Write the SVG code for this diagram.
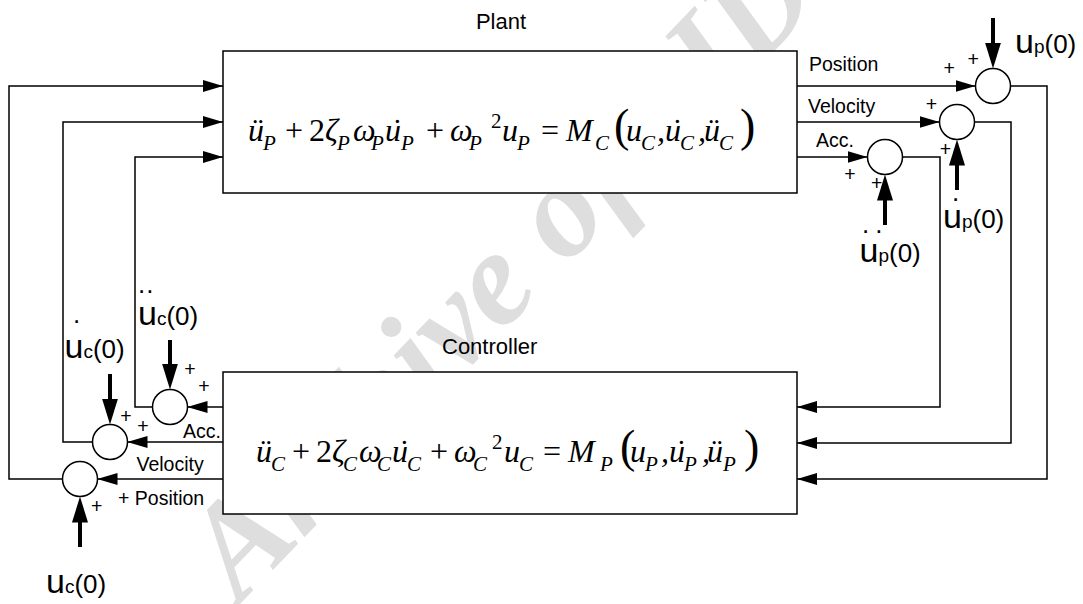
<svg xmlns="http://www.w3.org/2000/svg" width="1083" height="604" viewBox="0 0 1083 604">
<style>
.box{fill:#fff;stroke:#000;stroke-width:1.5}
.sum{fill:#fff;stroke:#000;stroke-width:1.5}
.ln{fill:none;stroke:#000;stroke-width:1.5}
.bold{fill:none;stroke:#000;stroke-width:4}
.lbl{font-family:"Liberation Sans",Arial,sans-serif;font-size:19.5px;fill:#000}
.pl{font-family:"Liberation Sans",Arial,sans-serif;font-size:19.5px;fill:#000;text-anchor:middle}
.ttl{font-family:"Liberation Sans",Arial,sans-serif;font-size:22px;fill:#000}
.ul{font-family:"Liberation Sans",Arial,sans-serif;fill:#000}
.uu{font-size:34px}
.us{font-size:19px}
.u0{font-size:26px}
.dot{font-family:"Liberation Sans",Arial,sans-serif;font-size:26px;fill:#000}
.eq{font-family:"Liberation Serif","Times New Roman",serif;font-size:32px;font-style:italic;fill:#000}
.sb{font-size:21px}
.up{font-style:normal}
.par{font-size:46px;font-style:normal}
.wm{font-family:"Liberation Serif","Times New Roman",serif;font-weight:bold;font-style:italic;font-size:135px;fill:#dedede}
</style>
<defs>
<marker id="ah" markerUnits="userSpaceOnUse" markerWidth="20" markerHeight="12" refX="20" refY="6" orient="auto"><path d="M0,0 L20,6 L0,12 z" fill="#000"/></marker>
<marker id="bh" markerUnits="userSpaceOnUse" markerWidth="26" markerHeight="16" refX="16" refY="8" orient="auto"><path d="M0,0 L26,8 L0,16 z" fill="#000"/></marker>
</defs>
<rect width="1083" height="604" fill="#fff"/>
<text class="wm" transform="translate(240,604) rotate(-46)">Archive of SID</text>

<g id="connectors">
<path class="ln" d="M797,86 H975.5" marker-end="url(#ah)"/>
<path class="ln" d="M797,122 H939.5" marker-end="url(#ah)"/>
<path class="ln" d="M797,157 H867.5" marker-end="url(#ah)"/>
<path class="ln" d="M1010.5,86 H1047 V479 H797" marker-end="url(#ah)"/>
<path class="ln" d="M974.5,122 H1011 V443 H797" marker-end="url(#ah)"/>
<path class="ln" d="M902.5,157 H940 V407 H797" marker-end="url(#ah)"/>
<path class="ln" d="M223,407 H187.5" marker-end="url(#ah)"/>
<path class="ln" d="M223,442 H127.5" marker-end="url(#ah)"/>
<path class="ln" d="M223,479 H97.5" marker-end="url(#ah)"/>
<path class="ln" d="M152.5,407 H135 V157 H223" marker-end="url(#ah)"/>
<path class="ln" d="M92.5,442 H63 V122 H223" marker-end="url(#ah)"/>
<path class="ln" d="M62.5,479 H9 V86 H223" marker-end="url(#ah)"/>
<path class="bold" d="M993,18 V58.5" marker-end="url(#bh)"/>
<path class="bold" d="M957,190 V149.5" marker-end="url(#bh)"/>
<path class="bold" d="M885,225 V184.5" marker-end="url(#bh)"/>
<path class="bold" d="M170,340 V379.5" marker-end="url(#bh)"/>
<path class="bold" d="M110,374 V414.5" marker-end="url(#bh)"/>
<path class="bold" d="M80,547 V506.5" marker-end="url(#bh)"/>
</g>

<g id="plant">
<rect class="box" x="223" y="51" width="574" height="142"/>
<text class="ttl" x="501" y="28.5" text-anchor="middle">Plant</text>
<text class="eq" y="141"><tspan x="248">ü</tspan><tspan class="sb" x="263" y="150">P</tspan><tspan class="up" x="285" y="141">+</tspan><tspan class="up" x="309">2</tspan><tspan x="325">ζ</tspan><tspan class="sb" x="337" y="150">P</tspan><tspan x="353" y="141">ω</tspan><tspan class="sb" x="371" y="150">P</tspan><tspan x="385" y="141">u</tspan><tspan x="390" y="141">˙</tspan><tspan class="sb" x="401" y="150">P</tspan><tspan class="up" x="426" y="141">+</tspan><tspan x="450">ω</tspan><tspan class="sb" x="469" y="150">P</tspan><tspan class="sb up" x="491" y="128">2</tspan><tspan x="502" y="141">u</tspan><tspan class="sb" x="517" y="150">P</tspan><tspan class="up" x="541" y="141">=</tspan><tspan x="566">M</tspan><tspan class="sb" x="595" y="150">C</tspan><tspan class="par" x="614" y="141">(</tspan><tspan x="626">u</tspan><tspan class="sb" x="641" y="150">C</tspan><tspan x="657" y="141">,</tspan><tspan x="665">u</tspan><tspan x="670">˙</tspan><tspan class="sb" x="680" y="150">C</tspan><tspan x="698" y="141">,</tspan><tspan x="704">ü</tspan><tspan class="sb" x="719" y="150">C</tspan><tspan class="par" x="740" y="141">)</tspan></text>
</g>

<g id="controller">
<rect class="box" x="223" y="372" width="574" height="142"/>
<text class="ttl" x="442" y="353.5">Controller</text>
<text class="eq" y="462"><tspan x="256">ü</tspan><tspan class="sb" x="271" y="471">C</tspan><tspan class="up" x="292" y="462">+</tspan><tspan class="up" x="316">2</tspan><tspan x="332">ζ</tspan><tspan class="sb" x="343" y="471">C</tspan><tspan x="359" y="462">ω</tspan><tspan class="sb" x="377" y="471">C</tspan><tspan x="392" y="462">u</tspan><tspan x="397" y="462">˙</tspan><tspan class="sb" x="407" y="471">C</tspan><tspan class="up" x="430" y="462">+</tspan><tspan x="454">ω</tspan><tspan class="sb" x="473" y="471">C</tspan><tspan class="sb up" x="492" y="449">2</tspan><tspan x="504" y="462">u</tspan><tspan class="sb" x="519" y="471">C</tspan><tspan class="up" x="543" y="462">=</tspan><tspan x="568">M</tspan><tspan class="sb" x="600" y="471">P</tspan><tspan class="par" x="620" y="462">(</tspan><tspan x="630">u</tspan><tspan class="sb" x="645" y="471">P</tspan><tspan x="661" y="462">,</tspan><tspan x="669">u</tspan><tspan x="674">˙</tspan><tspan class="sb" x="684" y="471">P</tspan><tspan x="702" y="462">,</tspan><tspan x="707">ü</tspan><tspan class="sb" x="723" y="471">P</tspan><tspan class="par" x="744" y="462">)</tspan></text>
</g>

<g id="sum-p-pos"><circle class="sum" cx="993" cy="86" r="17.5"/><text class="pl" x="949.3" y="75.4">+</text><text class="pl" x="973.3" y="66.4">+</text></g>
<g id="sum-p-vel"><circle class="sum" cx="957" cy="122" r="17.5"/><text class="pl" x="931.5" y="111.4">+</text><text class="pl" x="945.5" y="156.4">+</text></g>
<g id="sum-p-acc"><circle class="sum" cx="885" cy="157" r="17.5"/><text class="pl" x="850" y="181.4">+</text><text class="pl" x="876.7" y="189.7">+</text></g>
<g id="sum-c-acc"><circle class="sum" cx="170" cy="407" r="17.5"/><text class="pl" x="190" y="376.4">+</text><text class="pl" x="204" y="393.1">+</text></g>
<g id="sum-c-vel"><circle class="sum" cx="110" cy="442" r="17.5"/><text class="pl" x="126" y="423.1">+</text><text class="pl" x="143" y="433.1">+</text></g>
<g id="sum-c-pos"><circle class="sum" cx="80" cy="479" r="17.5"/><text class="pl" x="96.7" y="513.1">+</text></g>

<g id="labels">
<text class="lbl" x="809" y="71">Position</text>
<text class="lbl" x="808" y="113">Velocity</text>
<text class="lbl" x="816" y="146.7">Acc.</text>
<text class="lbl" x="183" y="438">Acc.</text>
<text class="lbl" x="136.5" y="471">Velocity</text>
<text class="lbl" x="118" y="505">+ Position</text>
</g>

<g id="ic-up0"><text class="ul" x="1015" y="53"><tspan class="uu">u</tspan><tspan class="us">p</tspan><tspan class="u0">(0)</tspan></text></g>
<g id="ic-udp0"><text class="dot" x="952" y="201.4">.</text><text class="ul" x="943" y="228"><tspan class="uu">u</tspan><tspan class="us">p</tspan><tspan class="u0">(0)</tspan></text></g>
<g id="ic-uddp0"><text class="dot" x="862 875.3" y="233">..</text><text class="ul" x="859.5" y="262.3"><tspan class="uu">u</tspan><tspan class="us">p</tspan><tspan class="u0">(0)</tspan></text></g>
<g id="ic-uddc0"><text class="dot" x="138 146.3" y="293">..</text><text class="ul" x="138" y="325"><tspan class="uu">u</tspan><tspan class="us">c</tspan><tspan class="u0">(0)</tspan></text></g>
<g id="ic-udc0"><text class="dot" x="73" y="323">.</text><text class="ul" x="64.5" y="358.3"><tspan class="uu">u</tspan><tspan class="us">c</tspan><tspan class="u0">(0)</tspan></text></g>
<g id="ic-uc0"><text class="ul" x="46" y="593"><tspan class="uu">u</tspan><tspan class="us">c</tspan><tspan class="u0">(0)</tspan></text></g>
</svg>
